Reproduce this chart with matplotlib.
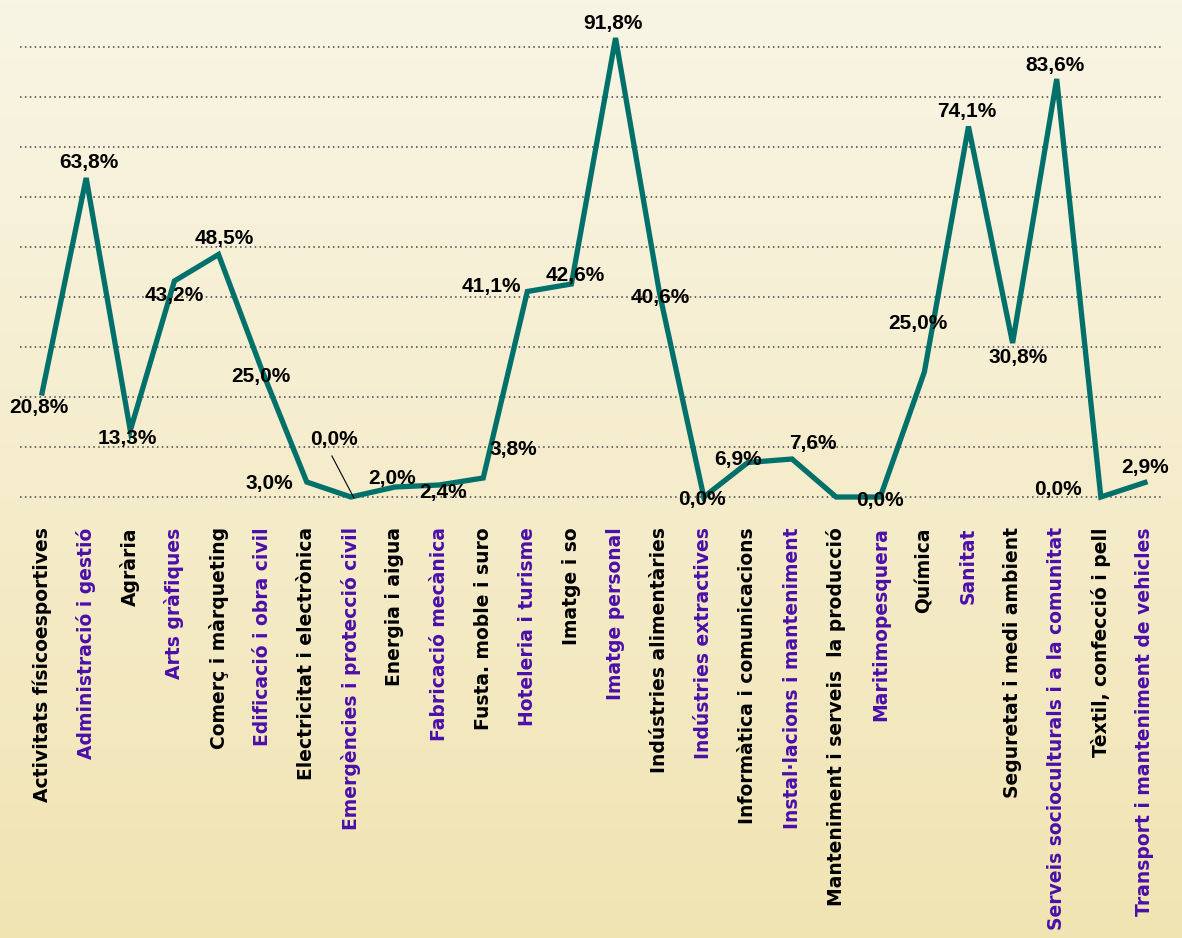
import numpy as np
import matplotlib.pyplot as plt
from matplotlib.colors import LinearSegmentedColormap

# data
families = ['Activitats físicoesportives', 'Administració i gestió', 'Agrària',
            'Arts gràfiques', 'Comerç i màrqueting', 'Edificació i obra civil',
            'Electricitat i electrònica', 'Emergències i protecció civil',
            'Energia i aigua', 'Fabricació mecànica', 'Fusta. moble i suro',
            'Hoteleria i turisme', 'Imatge i so', 'Imatge personal',
            'Indústries alimentàries', 'Indústries extractives',
            'Informàtica i comunicacions', 'Instal·lacions i manteniment',
            'Manteniment i serveis  la producció', 'Maritimopesquera', 'Química',
            'Sanitat', 'Seguretat i medi ambient',
            'Serveis socioculturals i a la comunitat', 'Tèxtil, confecció i pell',
            'Transport i manteniment de vehicles']
values = [20.8, 63.8, 13.3, 43.2, 48.5, 25.0, 3.0, 0.0, 2.0, 2.4, 3.8, 41.1, 42.6,
          91.8, 40.6, 0.0, 6.9, 7.6, 0.0, 0.0, 25.0, 74.1, 30.8, 83.6, 0.0, 2.9]
show_label = [True] * 26
show_label[18] = False

# label placement (offset from point, in x-index / percent units)
offsets = [(-0.07, -2.8), (0.07, 3.2), (-0.07, -1.5), (0.0, -2.8), (0.12, 3.3),
           (-0.04, -0.8), (-0.85, -0.2), (-0.38, 11.6), (-0.07, 1.8), (0.09, -1.4),
           (0.68, 5.8), (-0.82, 1.1), (0.08, 1.8), (-0.06, 3.0), (0.01, -0.6),
           (-0.04, -0.4), (-0.22, 0.7), (0.48, 3.2), (0, 0), (-0.01, -0.6),
           (-0.15, 9.8), (-0.03, 3.1), (0.12, -2.8), (-0.04, 2.8), (-0.97, 1.6),
           (0.0, 3.1)]

W, H = 1182, 938
fig = plt.figure(figsize=(W / 100, H / 100), dpi=100)

# background gradient
bg = fig.add_axes([0, 0, 1, 1], zorder=-10)
cmap = LinearSegmentedColormap.from_list('bg', ['#f9f5e5', '#f1e4b3'])
bg.imshow(np.linspace(0, 1, 256).reshape(-1, 1), aspect='auto', cmap=cmap,
          extent=[0, 1, 0, 1])
bg.axis('off')

ax = fig.add_axes([20 / W, (H - 512) / H, 1147 / W, 490 / H])
ax.patch.set_alpha(0)
ax.set_xlim(-0.5, 25.5)
ax.set_ylim(-3, 95)

x = np.arange(len(values))
ax.hlines(np.arange(0, 100, 10), -0.5, 25.4, colors='#444444', linewidth=1.1,
          linestyles=(0, (1, 2.2)), zorder=1)
ax.plot(x, values, color='#00706a', linewidth=3.8, solid_joinstyle='miter',
        clip_on=False, zorder=3)

lab_font = dict(family=['Liberation Sans', 'DejaVu Sans'], fontweight='bold',
                fontsize=15, color='black', ha='center', va='center', zorder=4)
for i, v in enumerate(values):
    if not show_label[i]:
        continue
    dx, dy = offsets[i]
    ax.text(i + dx, v + dy, f'{v:.1f}'.replace('.', ',') + '%', **lab_font)

# leader line for Emergències
ax.plot([6.57, 7.07], [8.2, -0.2], color='black', linewidth=0.8, zorder=4)

ax.set_xticks(x)
ax.set_xticklabels(families, rotation=90, fontsize=13.5, fontweight='bold',
                   family=['DejaVu Sans'], va='top', ha='center')
for i, t in enumerate(ax.get_xticklabels()):
    t.set_color('black' if i % 2 == 0 else '#4b0fa8')
ax.tick_params(axis='x', length=0, pad=11)
ax.set_yticks([])
for s in ax.spines.values():
    s.set_visible(False)

fig.savefig('out.png', dpi=100)
